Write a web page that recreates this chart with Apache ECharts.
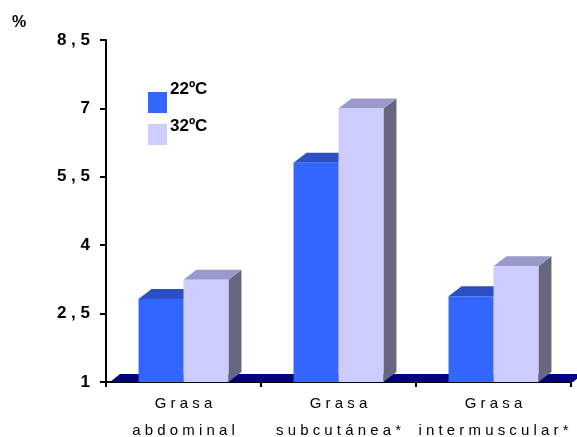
<!DOCTYPE html>
<html>
<head>
<meta charset="utf-8">
<script src="https://cdn.jsdelivr.net/npm/echarts@6/dist/echarts.min.js"></script>
<style>
  html, body { margin: 0; padding: 0; background: #ffffff; }
  #chart { width: 577px; height: 437px; }
</style>
</head>
<body>
<div id="chart"></div>
<script>
// Fat depots (% of carcass) at two housing temperatures
const categories = ['Grasa\nabdominal', 'Grasa\nsubcutánea*', 'Grasa\nintermuscular*'];
const seriesNames = ['22ºC', '32ºC'];
const values22 = [2.82, 5.81, 2.88];
const values32 = [3.24, 7.00, 3.54];
const yMin = 1;
const yMax = 8.5;
const yStep = 1.5;

const FONT = '"Liberation Sans", Arial, Helvetica, sans-serif';
const DX = 13, DY = 10;          // bar depth offsets
const FDX = 10, FDY = 8;         // floor depth offsets

const palette = [
  { front: '#3366FF', top: '#2A50C4', side: '#1F3A99' },
  { front: '#CCCCFF', top: '#9999CC', side: '#666680' }
];

const chart = echarts.init(document.getElementById('chart'), null, { renderer: 'canvas' });

function spaced(text) {
  return text.split('\n').map(l => l.split('').join(' ')).join('\n');
}

function barRenderer(slot, colors) {
  return function (params, api) {
    const cat = api.value(0);
    const val = api.value(1);
    const top = api.coord([cat, val]);
    const base = api.coord([cat, yMin]);
    const band = api.size([1, 0])[0];
    const w = band * 0.29;
    const x0 = slot === 0 ? top[0] - w : top[0];
    const x1 = x0 + w;
    const yT = top[1], yB = base[1];
    return {
      type: 'group',
      children: [
        { type: 'polygon', shape: { points: [[x1, yT], [x1 + DX, yT - DY], [x1 + DX, yB - DY], [x1, yB]] }, style: { fill: colors.side } },
        { type: 'polygon', shape: { points: [[x0, yT], [x0 + DX, yT - DY], [x1 + DX, yT - DY], [x1, yT]] }, style: { fill: colors.top } },
        { type: 'rect', shape: { x: x0, y: yT, width: w, height: yB - yT }, style: { fill: colors.front } }
      ]
    };
  };
}

function floorRenderer(params, api) {
  const cs = params.coordSys;
  const yB = cs.y + cs.height;
  const xL = cs.x + 4;
  const xR = cs.x + cs.width + 2;
  return {
    type: 'polygon',
    shape: { points: [[xL, yB], [xL + FDX, yB - FDY], [xR + FDX, yB - FDY], [xR, yB]] },
    style: { fill: '#000080' }
  };
}

const legendGraphics = [];
seriesNames.forEach((name, i) => {
  legendGraphics.push({
    type: 'rect', left: 148, top: 92 + i * 32,
    shape: { width: 19, height: 21 },
    style: { fill: palette[i].front }
  });
  legendGraphics.push({
    type: 'text', left: 170, top: 81 + i * 37,
    style: { text: name, fill: '#000', font: 'bold 17px ' + FONT }
  });
});
legendGraphics.push({
  type: 'text', left: 12, top: 15,
  style: { text: '%', fill: '#000', font: 'bold 16px ' + FONT }
});

chart.setOption({
  backgroundColor: '#ffffff',
  animation: false,
  grid: { left: 106, right: 6, top: 40, bottom: 55, outerBoundsMode: 'none', containLabel: false },
  xAxis: {
    type: 'category',
    data: categories,
    boundaryGap: true,
    axisLine: { show: true, lineStyle: { color: '#000', width: 2 } },
    axisTick: { show: true, length: 5, lineStyle: { color: '#000', width: 2 } },
    axisLabel: {
      interval: 0,
      hideOverlap: false,
      margin: 8,
      color: '#000',
      fontFamily: FONT,
      fontSize: 15,
      lineHeight: 27,
      formatter: spaced
    },
    splitLine: { show: false }
  },
  yAxis: {
    type: 'value',
    min: yMin,
    max: yMax,
    interval: yStep,
    axisLine: { show: true, onZero: false, lineStyle: { color: '#000', width: 2 } },
    axisTick: { show: true, length: 6, lineStyle: { color: '#000', width: 2 } },
    axisLabel: {
      margin: 16,
      color: '#000',
      fontFamily: FONT,
      fontSize: 17,
      fontWeight: 'bold',
      formatter: v => String(Math.round(v * 10) / 10).replace('.', ' , ')
    },
    splitLine: { show: false }
  },
  graphic: legendGraphics,
  series: [
    {
      type: 'custom',
      name: 'floor',
      silent: true,
      clip: false,
      z: 1,
      renderItem: floorRenderer,
      data: [[0]]
    },
    {
      type: 'custom',
      name: seriesNames[0],
      clip: false,
      z: 2,
      renderItem: barRenderer(0, palette[0]),
      encode: { x: 0, y: 1 },
      data: values22.map((v, i) => [i, v])
    },
    {
      type: 'custom',
      name: seriesNames[1],
      clip: false,
      z: 3,
      renderItem: barRenderer(1, palette[1]),
      encode: { x: 0, y: 1 },
      data: values32.map((v, i) => [i, v])
    }
  ]
});
</script>
</body>
</html>
